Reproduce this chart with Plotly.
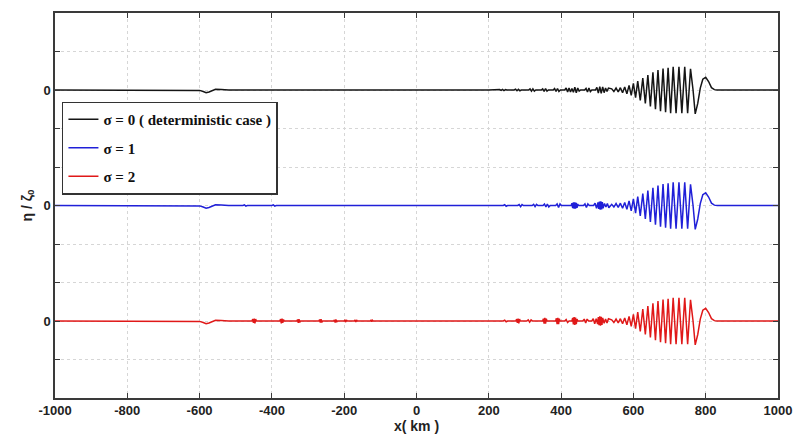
import plotly.graph_objects as go

# ---------------- data (km, eta/zeta0) ----------------
SERIES_NAMES = ["σ = 0 ( deterministic case )", "σ = 1", "σ = 2"]
SERIES_OFFSETS = [8, 5, 2]
SERIES_COLORS = ["#151515", "#2020d8", "#e01818"]

X_TICKS = [-1000, -800, -600, -400, -200, 0, 200, 400, 600, 800, 1000]
Y_TICKS = [1, 2, 3, 4, 5, 6, 7, 8, 9]
Y_TICK_TEXT = ["", "0", "", "", "0", "", "", "0", ""]

# common leading wave packet
PACKET_X = [540, 546, 552, 558, 564, 570, 576, 582, 588, 594, 600, 606, 612, 619,
            626, 633, 640, 647, 654, 661, 668, 675, 682, 689, 696, 703, 710, 718,
            726, 734, 742, 750, 758, 765, 771, 778, 785, 792, 800, 808, 816, 824,
            832, 1000]
PACKET_ETA = [0.03, -0.04, 0.05, -0.05, 0.06, -0.07, 0.08, -0.10, 0.12, -0.14, 0.17,
              -0.20, 0.23, -0.27, 0.31, -0.35, 0.39, -0.43, 0.46, -0.50, 0.52, -0.55,
              0.56, -0.58, 0.58, -0.60, 0.60, -0.60, 0.60, -0.60, 0.60, -0.60, 0.55,
              0.0, -0.62, -0.35, 0.05, 0.28, 0.33, 0.22, 0.06, 0.01, 0.0, 0.0]

# sigma = 0 trailing part
S0_X = [-1000, -612, -600, -590, -582, -574, -566, -556, -540, -520, 200,
        230, 234, 238, 242, 246, 250,
        270, 274, 278, 282, 286, 290,
        310, 314, 318, 322, 326, 330,
        345, 349, 353, 357, 361, 365,
        378, 382, 386, 390, 394, 398,
        410, 414, 418, 422, 426, 430, 434, 438, 442, 446, 450, 454,
        465, 469, 473, 477, 481, 485,
        495, 499, 503, 507, 511, 515, 519, 523, 527, 531]
S0_ETA = [0, 0, -0.01, -0.04, -0.07, -0.05, -0.01, 0.02, 0.01, 0, 0,
          0.01, -0.01, 0.015, -0.015, 0.01, 0,
          0, 0.02, -0.02, 0.02, -0.02, 0,
          0, 0.03, -0.03, 0.03, -0.03, 0,
          0, 0.03, -0.035, 0.035, -0.03, 0,
          0, 0.04, -0.04, 0.04, -0.04, 0,
          0, 0.05, -0.05, 0.05, -0.05, 0.04, -0.06, 0.07, -0.07, 0.05, -0.03, 0,
          0, 0.04, -0.05, 0.05, -0.04, 0,
          0, 0.07, -0.08, 0.09, -0.09, 0.08, -0.07, 0.05, -0.04, 0.05]

# sigma = 1 trailing part
S1_X = [-1000, -612, -600, -590, -582, -574, -566, -556, -540, -520,
        -480, -476, -472, -468, -400, -396, -392, -388, -300, 200,
        240, 244, 248, 252,
        280, 284, 288, 292, 296,
        320, 324, 328, 332, 336,
        350, 354, 358, 362, 366, 370,
        385, 389, 393, 397, 401,
        428, 430, 432, 434, 436, 438, 440, 442, 444, 446, 448,
        462, 466, 470, 474, 478,
        490, 494, 498, 502, 504, 506, 508, 510, 512, 514, 516, 520, 524,
        528, 532]
S1_ETA = [0, 0, -0.01, -0.04, -0.07, -0.05, -0.01, 0.02, 0.01, 0,
          0, 0.015, -0.015, 0, 0, 0.015, -0.015, 0, 0, 0,
          0, 0.02, -0.02, 0,
          0, 0.025, -0.03, 0.025, 0,
          0, 0.03, -0.03, 0.03, 0,
          0, 0.04, -0.04, 0.04, -0.04, 0,
          0, 0.04, -0.05, 0.04, 0,
          0, 0.06, -0.07, 0.08, -0.08, 0.08, -0.08, 0.07, -0.06, 0.04, 0,
          0, 0.04, -0.05, 0.04, 0,
          0, 0.06, -0.07, 0.08, -0.09, 0.10, -0.11, 0.11, -0.10, 0.09, -0.07, 0.05, -0.04,
          0.05, -0.06]

# sigma = 2 trailing part
S2_X = [-1000, -612, -600, -590, -582, -574, -566, -556, -540, -520,
        -455, -453, -451, -449, -447, -445, -443,
        -378, -376, -374, -372, -370, -368, -366,
        -331, -329, -327, -325, -323, -321,
        -270, -268, -266, -264, -262, -260,
        -229, -227, -225, -223, -221, -219,
        -200, -198, -196, -194, -192,
        -172, -170, -168, -166, -164,
        -128, -126, -124, -122, -120,
        240, 244, 248, 252,
        275, 277, 279, 281, 283, 285, 287,
        305, 309, 313, 317, 321,
        349, 351, 353, 355, 357, 359, 361,
        385, 387, 389, 391, 393, 395, 397,
        410, 414, 418, 422,
        430, 432, 434, 436, 438, 440, 442, 444, 446,
        460, 464, 468, 472, 476,
        485, 489, 493, 497, 501, 503, 505, 507, 509, 511, 513, 515, 519, 523,
        527, 531]
S2_ETA = [0, 0, -0.01, -0.04, -0.07, -0.05, -0.01, 0.02, 0.01, 0,
          0, 0.05, -0.05, 0.06, -0.06, 0.05, 0,
          0, 0.05, -0.06, 0.06, -0.05, 0.04, 0,
          0, 0.04, -0.05, 0.05, -0.04, 0,
          0, 0.04, -0.04, 0.05, -0.04, 0,
          0, 0.03, -0.04, 0.04, -0.03, 0,
          0, 0.03, -0.03, 0.03, 0,
          0, 0.03, -0.03, 0.03, 0,
          0, 0.02, -0.02, 0.02, 0,
          0, 0.02, -0.02, 0,
          0, 0.05, -0.05, 0.06, -0.06, 0.05, 0,
          0, 0.03, -0.03, 0.03, 0,
          0, 0.06, -0.07, 0.08, -0.07, 0.06, 0,
          0, 0.07, -0.08, 0.08, -0.08, 0.06, 0,
          0, 0.04, -0.04, 0,
          0, 0.08, -0.09, 0.10, -0.10, 0.09, -0.08, 0.05, 0,
          0, 0.05, -0.05, 0.05, 0,
          0, 0.06, -0.07, 0.06, -0.08, 0.10, -0.11, 0.12, -0.12, 0.11, -0.10, 0.08, -0.06, 0.05,
          -0.05, 0.06]

SERIES_X = [S0_X, S1_X, S2_X]
SERIES_ETA = [S0_ETA, S1_ETA, S2_ETA]

# ---------------- figure ----------------
fig = go.Figure()
for name, off, col, xs, es in zip(SERIES_NAMES, SERIES_OFFSETS, SERIES_COLORS,
                                  SERIES_X, SERIES_ETA):
    x_all = list(xs) + list(PACKET_X)
    y_all = [off + v for v in list(es) + list(PACKET_ETA)]
    fig.add_trace(go.Scatter(x=x_all, y=y_all, mode="lines", name=name,
                             legendgroup=name,
                             line=dict(color=col, width=1.5)))

tickfont = dict(family="Liberation Sans", size=13, color="#222222", weight="bold")
axis_common = dict(showline=True, linecolor="#3a3a3a", linewidth=1.5, mirror="ticks",
                   ticks="inside", ticklen=5, tickcolor="#3a3a3a", tickwidth=1.2,
                   showgrid=True, gridcolor="#d6d6d6", griddash="dot", gridwidth=1,
                   zeroline=False, tickfont=tickfont)

fig.update_xaxes(range=[-1000, 1000], tickvals=X_TICKS,
                 ticktext=[str(v) for v in X_TICKS],
                 title=dict(text="x( km )", standoff=4,
                            font=dict(family="Liberation Sans", size=14,
                                      color="#222222", weight="bold")),
                 **axis_common)
fig.update_yaxes(range=[0, 10], tickvals=Y_TICKS, ticktext=Y_TICK_TEXT,
                 title=dict(text="η / ζ<sub>0</sub>", standoff=8,
                            font=dict(family="Liberation Sans", size=14,
                                      color="#222222", weight="bold")),
                 **axis_common)

fig.update_layout(
    width=803, height=444,
    margin=dict(l=55, r=22, t=11, b=46),
    paper_bgcolor="white", plot_bgcolor="white",
    showlegend=True,
    legend=dict(x=0.0096, y=0.77, xanchor="left", yanchor="top",
                bgcolor="white", bordercolor="#333333", borderwidth=1.5,
                tracegroupgap=6,
                font=dict(family="Liberation Serif", size=15, color="#111111",
                          weight="bold")),
)

fig.write_html("out.html")
